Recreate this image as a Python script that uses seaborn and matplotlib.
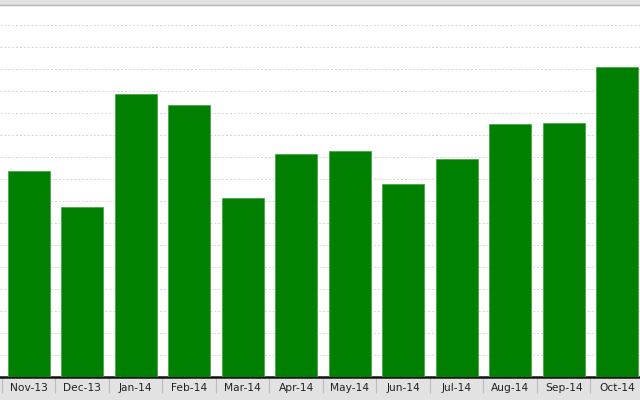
import matplotlib
matplotlib.use("Agg")
import matplotlib.pyplot as plt
import seaborn as sns
import numpy as np
import pandas as pd

months = ["Nov-13", "Dec-13", "Jan-14", "Feb-14", "Mar-14", "Apr-14",
          "May-14", "Jun-14", "Jul-14", "Aug-14", "Sep-14", "Oct-14"]
values = [93.6, 77.3, 128.5, 123.6, 81.5, 101.2, 102.7, 87.9, 99.2, 115.1, 115.6, 140.9]

df = pd.DataFrame({"month": months, "value": values})

sns.set_style("white")
plt.rcParams["font.family"] = ["DejaVu Sans"]

fig = plt.figure(figsize=(6.4, 4.0), dpi=100, facecolor="#e2e2e2")
# axes: plot area from x=0 to ~644px, baseline at y=377px from top, top at y=5px
ax = fig.add_axes([0, 23/400, 644/640, 372/400])
ax.set_facecolor("white")

sns.barplot(data=df, x="month", y="value", color="#007f00", saturation=1,
            width=0.79, edgecolor="#47a847", linewidth=0.6, ax=ax, zorder=3)

ax.set_xlim(-0.5 - 2/53.5, len(months) - 0.5)
ax.set_ylim(0, 169)
ax.set_yticks(np.arange(10, 170, 10))
ax.yaxis.grid(True, color="#d6d6d6", linestyle=(0, (2, 2)), linewidth=0.7, zorder=0)
ax.xaxis.grid(False)
ax.tick_params(axis="y", left=False, labelleft=False)

ax.set_xlabel("")
ax.set_ylabel("")
ax.tick_params(axis="x", which="major", bottom=True, length=0, pad=4,
               labelsize=7.7, labelcolor="#222222")
ax.set_xticks(np.arange(len(months) + 1) - 0.5, minor=True)
ax.tick_params(axis="x", which="minor", bottom=True, length=11.5, width=0.8,
               color="#bcbcbc", direction="out")

for s in ["left", "right"]:
    ax.spines[s].set_visible(False)
ax.spines["top"].set_color("#b4b4b4")
ax.spines["top"].set_linewidth(1.0)
ax.spines["bottom"].set_color("#111111")
ax.spines["bottom"].set_linewidth(1.8)

fig.savefig("out.png", dpi=100, facecolor=fig.get_facecolor())
